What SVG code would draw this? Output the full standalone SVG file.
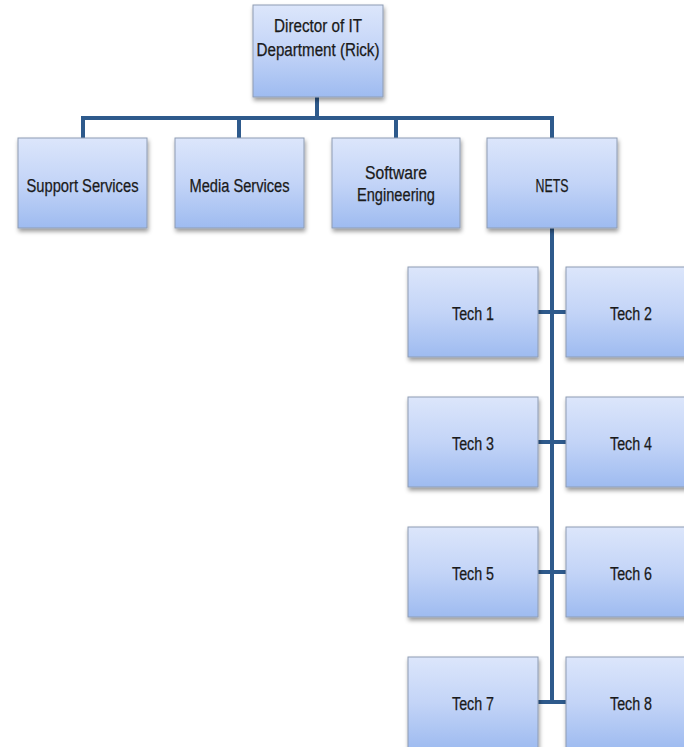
<svg xmlns="http://www.w3.org/2000/svg" width="684" height="747" viewBox="0 0 684 747">
<defs>
<linearGradient id="g" x1="0" y1="0" x2="0" y2="1">
<stop offset="0" stop-color="#dce6fb"/>
<stop offset="0.5" stop-color="#c3d4f7"/>
<stop offset="1" stop-color="#9ebbf0"/>
</linearGradient>
<filter id="sh" x="-10%" y="-10%" width="125%" height="130%">
<feDropShadow dx="1" dy="3" stdDeviation="2" flood-color="#000" flood-opacity="0.4"/>
</filter>
<style>
.b{fill:url(#g);stroke:#8e9cb3;stroke-width:1;filter:url(#sh)}
.t{font-family:"Liberation Sans",Arial,sans-serif;font-size:18px;fill:#1a1a1a;stroke:#1a1a1a;stroke-width:0.25;text-anchor:middle}
.c{fill:none;stroke:#2e5a8c;stroke-width:4}
</style>
</defs>
<rect width="684" height="747" fill="#fff"/>
<g id="connectors">
<path class="c" d="M317 97V118M83 138V118H552V138"/>
<path class="c" d="M239 118V138M396 118V138"/>
<path class="c" d="M552 228V702"/>
<path class="c" d="M538 312H566M538 442H566M538 572H566M538 702H566"/>
</g>
<g id="director"><rect class="b" x="253" y="5" width="130" height="92"/><text class="t" x="318" y="32" textLength="88" lengthAdjust="spacingAndGlyphs">Director of IT</text><text class="t" x="318" y="56" textLength="123" lengthAdjust="spacingAndGlyphs">Department (Rick)</text></g>
<g id="support"><rect class="b" x="18" y="138" width="129" height="90"/><text class="t" x="82.5" y="192" textLength="112" lengthAdjust="spacingAndGlyphs">Support Services</text></g>
<g id="media"><rect class="b" x="175" y="138" width="129" height="90"/><text class="t" x="239.5" y="192" textLength="100" lengthAdjust="spacingAndGlyphs">Media Services</text></g>
<g id="software"><rect class="b" x="332" y="138" width="128" height="90"/><text class="t" x="396" y="179" textLength="62" lengthAdjust="spacingAndGlyphs">Software</text><text class="t" x="396" y="201" textLength="78" lengthAdjust="spacingAndGlyphs">Engineering</text></g>
<g id="nets"><rect class="b" x="487" y="138" width="130" height="90"/><text class="t" x="552" y="192" textLength="33" lengthAdjust="spacingAndGlyphs">NETS</text></g>
<g id="tech1"><rect class="b" x="408" y="267" width="130" height="90"/><text class="t" x="473" y="320" textLength="42" lengthAdjust="spacingAndGlyphs">Tech 1</text></g>
<g id="tech2"><rect class="b" x="566" y="267" width="130" height="90"/><text class="t" x="631" y="320" textLength="42" lengthAdjust="spacingAndGlyphs">Tech 2</text></g>
<g id="tech3"><rect class="b" x="408" y="397" width="130" height="90"/><text class="t" x="473" y="450" textLength="42" lengthAdjust="spacingAndGlyphs">Tech 3</text></g>
<g id="tech4"><rect class="b" x="566" y="397" width="130" height="90"/><text class="t" x="631" y="450" textLength="42" lengthAdjust="spacingAndGlyphs">Tech 4</text></g>
<g id="tech5"><rect class="b" x="408" y="527" width="130" height="90"/><text class="t" x="473" y="580" textLength="42" lengthAdjust="spacingAndGlyphs">Tech 5</text></g>
<g id="tech6"><rect class="b" x="566" y="527" width="130" height="90"/><text class="t" x="631" y="580" textLength="42" lengthAdjust="spacingAndGlyphs">Tech 6</text></g>
<g id="tech7"><rect class="b" x="408" y="657" width="130" height="92"/><text class="t" x="473" y="710" textLength="42" lengthAdjust="spacingAndGlyphs">Tech 7</text></g>
<g id="tech8"><rect class="b" x="566" y="657" width="130" height="92"/><text class="t" x="631" y="710" textLength="42" lengthAdjust="spacingAndGlyphs">Tech 8</text></g>
</svg>
